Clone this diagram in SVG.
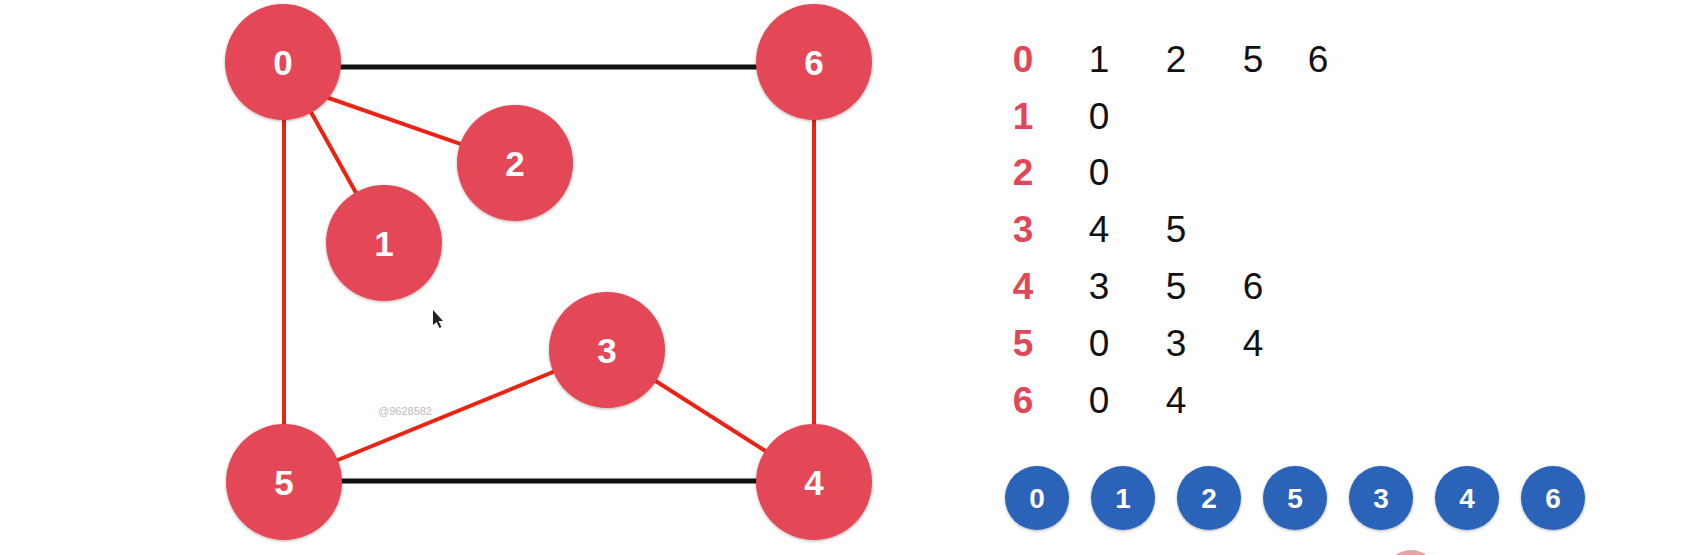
<svg xmlns="http://www.w3.org/2000/svg" width="1705" height="555" viewBox="0 0 1705 555">
<defs>
<filter id="sh" x="-20%" y="-20%" width="140%" height="140%">
<feDropShadow dx="0" dy="1" stdDeviation="1.5" flood-color="#000" flood-opacity="0.3"/>
</filter>
</defs>
<style>
.nd{fill:#e44656;filter:url(#sh)}
.nl{fill:#fff;font-family:"Liberation Sans",Arial,sans-serif;font-weight:bold;font-size:35px;text-anchor:middle}
.bk{stroke:#111;stroke-width:5;fill:none}
.rd{stroke:#ec2312;stroke-width:4;fill:none}
.th{fill:#e14759;font-family:"Liberation Sans",Arial,sans-serif;font-weight:bold;font-size:37px;text-anchor:middle}
.tv{fill:#111;font-family:"Liberation Sans",Arial,sans-serif;font-size:37px;text-anchor:middle}
.bc{fill:#2a64b8;filter:url(#sh)}
.bl{fill:#fff;font-family:"Liberation Sans",Arial,sans-serif;font-weight:bold;font-size:28px;text-anchor:middle}
</style>
<rect width="1705" height="555" fill="#fff"/>
<g id="connectors">
<line class="bk" x1="283" y1="67" x2="814" y2="67"/>
<line class="bk" x1="284" y1="481" x2="814" y2="481"/>
<line class="rd" x1="284" y1="62" x2="284" y2="482"/>
<line class="rd" x1="814" y1="62" x2="814" y2="482"/>
<line class="rd" x1="283" y1="62" x2="384" y2="243"/>
<line class="rd" x1="300" y1="88" x2="515" y2="163"/>
<line class="rd" x1="284" y1="482" x2="607" y2="350"/>
<line class="rd" x1="607" y1="350" x2="814" y2="482"/>
</g>
<g id="node-0"><circle class="nd" cx="283" cy="62" r="58"/><text class="nl" x="283" y="75">0</text></g>
<g id="node-6"><circle class="nd" cx="814" cy="62" r="58"/><text class="nl" x="814" y="75">6</text></g>
<g id="node-2"><circle class="nd" cx="515" cy="163" r="58"/><text class="nl" x="515" y="176">2</text></g>
<g id="node-1"><circle class="nd" cx="384" cy="243" r="58"/><text class="nl" x="384" y="256">1</text></g>
<g id="node-3"><circle class="nd" cx="607" cy="350" r="58"/><text class="nl" x="607" y="363">3</text></g>
<g id="node-5"><circle class="nd" cx="284" cy="482" r="58"/><text class="nl" x="284" y="495">5</text></g>
<g id="node-4"><circle class="nd" cx="814" cy="482" r="58"/><text class="nl" x="814" y="495">4</text></g>
<text x="378" y="415" font-family="Liberation Sans,Arial,sans-serif" font-size="11" fill="#bbb">@9628582</text>
<polygon points="433,310 433,325 436.5,322 439.5,328 441.5,327 438.5,321 443,321" fill="#222"/>
<g id="adjacency-table">
<text class="th" x="1023" y="72">0</text><text class="tv" x="1099" y="72">1</text><text class="tv" x="1176" y="72">2</text><text class="tv" x="1253" y="72">5</text><text class="tv" x="1318" y="72">6</text>
<text class="th" x="1023" y="129">1</text><text class="tv" x="1099" y="129">0</text>
<text class="th" x="1023" y="185">2</text><text class="tv" x="1099" y="185">0</text>
<text class="th" x="1023" y="242">3</text><text class="tv" x="1099" y="242">4</text><text class="tv" x="1176" y="242">5</text>
<text class="th" x="1023" y="299">4</text><text class="tv" x="1099" y="299">3</text><text class="tv" x="1176" y="299">5</text><text class="tv" x="1253" y="299">6</text>
<text class="th" x="1023" y="356">5</text><text class="tv" x="1099" y="356">0</text><text class="tv" x="1176" y="356">3</text><text class="tv" x="1253" y="356">4</text>
<text class="th" x="1023" y="413">6</text><text class="tv" x="1099" y="413">0</text><text class="tv" x="1176" y="413">4</text>
</g>
<g id="queue">
<g id="q0"><circle class="bc" cx="1037" cy="498" r="32"/><text class="bl" x="1037" y="508">0</text></g>
<g id="q1"><circle class="bc" cx="1123" cy="498" r="32"/><text class="bl" x="1123" y="508">1</text></g>
<g id="q2"><circle class="bc" cx="1209" cy="498" r="32"/><text class="bl" x="1209" y="508">2</text></g>
<g id="q3"><circle class="bc" cx="1295" cy="498" r="32"/><text class="bl" x="1295" y="508">5</text></g>
<g id="q4"><circle class="bc" cx="1381" cy="498" r="32"/><text class="bl" x="1381" y="508">3</text></g>
<g id="q5"><circle class="bc" cx="1467" cy="498" r="32"/><text class="bl" x="1467" y="508">4</text></g>
<g id="q6"><circle class="bc" cx="1553" cy="498" r="32"/><text class="bl" x="1553" y="508">6</text></g>
</g>
<circle cx="1411" cy="576" r="26" fill="#e8a3a6"/>
</svg>
